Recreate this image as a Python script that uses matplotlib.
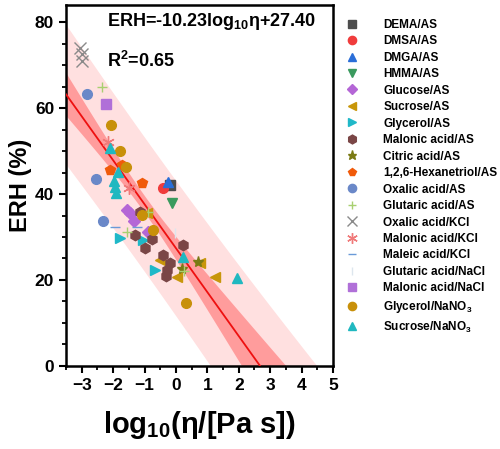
import matplotlib
matplotlib.use("Agg")
import matplotlib.pyplot as plt
import numpy as np

plt.rcParams['font.family'] = ['Liberation Sans', 'DejaVu Sans']
plt.rcParams['font.weight'] = 'bold'
plt.rcParams['mathtext.fontset'] = 'custom'
plt.rcParams['mathtext.rm'] = 'Liberation Sans:bold'
plt.rcParams['mathtext.bf'] = 'Liberation Sans:bold'
plt.rcParams['mathtext.it'] = 'Liberation Sans:bold'
plt.rcParams['mathtext.default'] = 'bf'

# fit reported on the chart
slope = -10.23
intercept = 27.40
# band parameters (t*s, n, mean x, Sxx) estimated from the figure
ts = 15.5
n_pts = 62
x_mean = -1.0
sxx = 72.0

labels = ['DEMA/AS', 'DMSA/AS', 'DMGA/AS', 'HMMA/AS', 'Glucose/AS', 'Sucrose/AS',
          'Glycerol/AS', 'Malonic acid/AS', 'Citric acid/AS', '1,2,6-Hexanetriol/AS',
          'Oxalic acid/AS', 'Glutaric acid/AS', 'Oxalic acid/KCl', 'Malonic acid/KCl',
          'Maleic acid/KCl', 'Glutaric acid/NaCl', 'Malonic acid/NaCl',
          'Glycerol/NaNO$_3$', 'Sucrose/NaNO$_3$']

xs = [
    [-0.19],
    [-0.42],
    [-0.24],
    [-0.13],
    [-1.57, -1.46, -1.33, -0.89],
    [-0.93, -0.51, 0.03, 0.77, 1.25],
    [-1.78, -1.04, -0.67],
    [-1.3, -0.98, -0.77, -1.14, -0.4, -0.19, -0.29, -0.32, 0.22],
    [0.18, 0.71],
    [-2.1, -1.73, -1.09],
    [-2.82, -2.55, -2.31],
    [-2.36, -1.57, -0.89, 0.25],
    [-3.05, -3.0, -3.0],
    [-2.15, -1.5],
    [-1.94, -1.25],
    [-0.03],
    [-2.24],
    [-2.07, -1.78, -1.6, -1.09, -0.72, 0.32],
    [-2.1, -1.97, -1.84, -1.94, -1.9, 0.24, 1.94],
]
ys = [
    [42.1],
    [41.3],
    [42.9],
    [37.8],
    [36.3, 35.5, 33.8, 31.2],
    [35.6, 24.7, 20.8, 23.9, 20.6],
    [29.7, 29.3, 22.3],
    [30.5, 27.4, 29.5, 35.9, 25.8, 23.9, 22.3, 20.9, 28.1],
    [22.5, 24.3],
    [45.6, 46.7, 42.6],
    [63.3, 43.5, 33.8],
    [64.9, 31.2, 35.9, 22.0],
    [74.0, 72.5, 71.0],
    [52.2, 41.5],
    [32.4, 32.4],
    [30.9],
    [60.9],
    [56.0, 50.1, 46.3, 35.1, 31.6, 14.6],
    [50.7, 43.0, 45.1, 41.6, 40.2, 25.3, 20.4],
]

markers = ['s', 'o', '^', 'v', 'D', '<', '>', 'h', '*', 'p', 'o', '+', 'x',
           (6, 2, 0), '_', '|', 's', 'o', '^']
colors = ['#4d4d4d', '#f03c3c', '#2a6ed8', '#3a9a5e', '#b466d6', '#c8960a',
          '#1fb8c8', '#7a4646', '#7a7a14', '#f05a0a', '#6a88c8', '#a8d070',
          '#8a8a8a', '#f07a7a', '#6a9ad8', '#dde6ee', '#b070d8', '#c8900a',
          '#20b8c0']
sizes = [7, 7, 7, 7, 6, 7, 7, 7.5, 8, 7, 7, 7, 9, 9, 7, 7, 6.5, 7, 7]

fig = plt.figure(figsize=(5.0, 4.49), dpi=100)
ax = fig.add_axes([0.132, 0.185, 0.534, 0.804])

xx = np.linspace(-3.5, 5, 200)
fit = slope * xx + intercept
conf = ts * np.sqrt(1.0 / n_pts + (xx - x_mean) ** 2 / sxx)
pred = ts * np.sqrt(1.0 + 1.0 / n_pts + (xx - x_mean) ** 2 / sxx)
ax.fill_between(xx, fit - pred, fit + pred, color='#ffe0e0', lw=0, zorder=1)
ax.fill_between(xx, fit - conf, fit + conf, color='#ff9c9c', lw=0, zorder=2)
ax.plot(xx, fit, color='#ee1010', lw=1.3, zorder=3)

for i in range(len(labels)):
    ax.plot(xs[i], ys[i], ls='none', marker=markers[i], color=colors[i],
            markersize=sizes[i], mew=1.0, label=labels[i], zorder=4)

ax.set_xlim(-3.5, 5)
ax.set_ylim(0, 84)
ax.set_xticks(np.arange(-3, 6, 1))
ax.set_xticks(np.arange(-3.5, 5.01, 0.5), minor=True)
ax.set_yticks([0, 20, 40, 60, 80])
ax.set_yticks(np.arange(0, 84, 5), minor=True)
ax.tick_params(which='major', length=5, width=1.5, labelsize=12.5, direction='out')
ax.tick_params(which='minor', length=3, width=1.3, direction='out')
for lab in ax.get_xticklabels() + ax.get_yticklabels():
    lab.set_fontweight('bold')
for sp in ax.spines.values():
    sp.set_linewidth(1.8)

ax.set_xlabel('log$_{10}$(η/[Pa s])', fontsize=21, fontweight='bold', labelpad=12)
ax.set_ylabel('ERH (%)', fontsize=17, fontweight='bold', labelpad=2)

ax.text(0.155, 0.955, 'ERH=-10.23log$_{10}$η+27.40', transform=ax.transAxes,
        fontsize=13, fontweight='bold', va='center', ha='left')
ax.text(0.155, 0.845, 'R$^2$=0.65', transform=ax.transAxes,
        fontsize=13, fontweight='bold', va='center', ha='left')

leg = ax.legend(loc='upper left', bbox_to_anchor=(1.02, 0.975), frameon=False,
                fontsize=8.5, handletextpad=1.9, labelspacing=0.38,
                handlelength=1.5, borderaxespad=0, markerscale=0.85)

fig.savefig('out.png', dpi=100)
